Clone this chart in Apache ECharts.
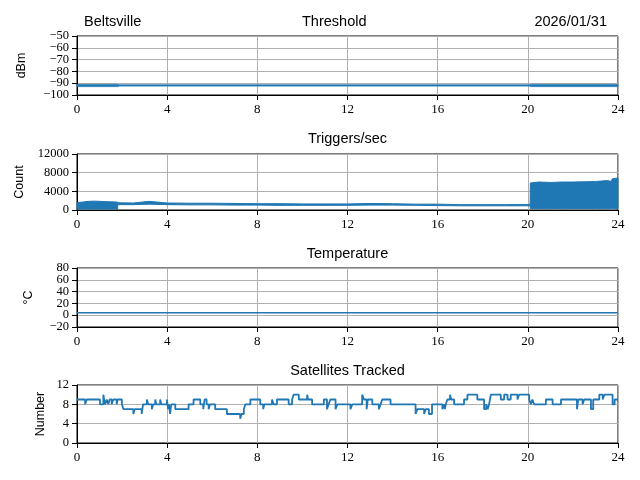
<!DOCTYPE html>
<html>
<head>
<meta charset="utf-8">
<script src="https://cdn.jsdelivr.net/npm/echarts@6/dist/echarts.min.js"></script>
<style>html,body{margin:0;padding:0;background:#fff}#c{width:640px;height:480px}</style>
</head>
<body>
<div id="c"></div>
<script>
// ---- data ----
const hourTicks = [0, 4, 8, 12, 16, 20, 24];
const thrTicks = [-100, -90, -80, -70, -60, -50];
const trigTicks = [0, 4000, 8000, 12000];
const tempTicks = [-20, 0, 20, 40, 60, 80];
const satTicks = [0, 4, 8, 12];

const thrHours = [0, 1.83, 1.84, 20.1, 20.11, 24];
const thrLow  = [-92.9, -92.9, -92.4, -92.4, -92.9, -92.9];
const thrHigh = [-91.0, -91.0, -91.4, -91.4, -91.0, -91.0];

const trigHours = [0, 0.25, 0.5, 0.75, 1.0, 1.25, 1.5, 1.8,
  1.81, 2.5, 3.2, 4, 5, 6, 7, 8, 9, 10, 11, 12, 13, 14, 15, 16, 17, 18, 19, 20.1,
  20.11, 20.5, 21, 21.5, 22, 22.5, 23, 23.5, 23.7, 23.75, 24];
const trigLow = [200, 200, 200, 200, 200, 200, 200, 200,
  1150, 1150, 1250, 1150, 1100, 1100, 1050, 1050, 1000, 1000, 1000, 1000, 1050, 1050, 1000, 950, 900, 900, 900, 900,
  300, 300, 300, 300, 300, 300, 300, 300, 300, 300, 300];
const trigHigh = [1600, 1700, 1850, 1900, 1850, 1800, 1750, 1700,
  1550, 1500, 1850, 1500, 1450, 1450, 1400, 1350, 1350, 1300, 1300, 1300, 1400, 1350, 1250, 1250, 1150, 1150, 1150, 1200,
  5800, 6000, 5900, 6000, 6000, 6050, 6100, 6300, 6150, 6700, 6850];

const tempHours = [0, 6, 12, 18, 24];
const tempVals = [4, 4, 4, 4, 4];

const satSteps = [
  [0.00,9],[0.36,8],[0.43,9],[1.02,8],[1.17,10],[1.24,8],[1.32,9],[1.39,8],[1.45,9],[1.54,8],
  [1.61,9],[1.76,8],[1.80,9],[1.99,8],[2.06,7],[2.50,6],[2.56,7],[2.87,6],[2.93,8],[3.10,9],
  [3.16,8],[3.32,7],[3.38,8],[3.47,9],[3.52,8],[3.69,9],[3.74,8],[3.99,9],[4.04,7],[4.08,8],
  [4.13,6],[4.18,8],[4.36,7],[4.95,8],[5.17,9],[5.47,8],[5.60,7],[5.66,9],[5.75,8],[5.84,7],
  [5.90,8],[6.13,7],[6.65,6],[7.24,5],[7.30,6],[7.40,7],[7.47,8],[7.69,9],[8.13,8],[8.26,7],
  [8.31,8],[8.65,9],[8.73,8],[8.87,9],[9.39,8],[9.54,9],[9.61,10],[9.84,9],[10.21,10],[10.25,9],
  [10.43,8],[10.95,9],[11.09,7],[11.16,8],[11.24,9],[11.47,7],[11.55,8],[12.13,7],[12.21,8],[12.65,10],
  [12.73,9],[12.85,7],[12.90,9],[13.10,8],[13.39,7],[13.47,8],[13.54,9],[13.91,8],[15.02,6],[15.10,7],
  [15.40,6],[15.47,7],[15.61,6],[15.75,8],[16.21,7],[16.28,8],[16.32,7],[16.36,8],[16.43,9],[16.55,10],
  [16.60,9],[16.73,8],[17.17,9],[17.32,10],[17.76,9],[18.06,7],[18.15,8],[18.22,7],[18.28,8],[18.36,10],
  [18.80,9],[18.95,10],[19.10,9],[19.24,10],[19.54,9],[19.61,10],[20.06,9],[20.13,8],[20.20,9],[20.28,8],
  [20.80,9],[21.10,8],[21.47,9],[22.18,7],[22.24,9],[22.43,8],[22.50,9],[22.80,7],[22.90,9],[23.17,10],
  [23.32,9],[23.40,10],[23.76,8],[23.85,9],[24.00,9]
];

const titles = { left: 'Beltsville', center: 'Threshold', right: '2026/01/31' };
const panelTitles = ['Triggers/sec', 'Temperature', 'Satellites Tracked'];
const yNames = ['dBm', 'Count', '\u00B0C', 'Number'];

// ---- chart ----
const BLUE = '#1f77b4';
const SERIF = '"Liberation Serif", "DejaVu Serif", serif';
const SANS = '"Liberation Sans", Arial, sans-serif';
const grids = [
  { left: 77, right: 22, top: 36, height: 59 },
  { left: 77, right: 22, top: 154, height: 56 },
  { left: 77, right: 22, top: 268, height: 59 },
  { left: 77, right: 22, top: 385, height: 58 }
].map(g => Object.assign(g, { show: true, borderColor: '#000', borderWidth: 1, backgroundColor: 'transparent' }));

const fmtVal = v => (v < 0 ? '\u2212' + Math.abs(v) : String(v));
const tickList = [thrTicks, trigTicks, tempTicks, satTicks];

const axisCommon = {
  axisLine: { show: true, onZero: false, lineStyle: { color: '#000', width: 1 } },
  axisTick: { show: true, inside: false, length: 5, lineStyle: { color: '#000', width: 1 } },
  splitLine: { show: true, lineStyle: { color: '#b0b0b0', width: 1 } }
};
const xAxes = grids.map((g, i) => Object.assign({
  type: 'value', gridIndex: i,
  min: hourTicks[0], max: hourTicks[hourTicks.length - 1], interval: hourTicks[1] - hourTicks[0],
  axisLabel: { color: '#000', fontFamily: SERIF, fontSize: 13, margin: 8, showMinLabel: true, showMaxLabel: true }
}, axisCommon));

// two overlapping y axes per panel: one labels even ticks, the other odd ticks
// (keeps the tightly packed tick labels from being dropped as overlaps)
const makeY = (t, i, parity, main) => Object.assign({
  type: 'value', gridIndex: i, position: 'left', offset: 0,
  min: t[0], max: t[t.length - 1], interval: t[1] - t[0],
  axisLabel: {
    color: '#000', fontFamily: SERIF, fontSize: 12.5, margin: 8, showMinLabel: true, showMaxLabel: true,
    formatter: v => {
      const k = t.indexOf(v);
      return (k >= 0 && k % 2 === parity) ? fmtVal(v) : '';
    }
  }
}, main ? axisCommon : {
  axisLine: { show: false }, axisTick: { show: false }, splitLine: { show: false }
});
const yAxes = tickList.map((t, i) => makeY(t, i, 0, true))
  .concat(tickList.map((t, i) => makeY(t, i, 1, false)));

const pairs = (xs, ys) => xs.map((x, i) => [x, ys[i]]);
const bandSeries = (xs, lo, hi, idx, w) => [
  { type: 'custom', xAxisIndex: idx, yAxisIndex: idx, silent: true, animation: false,
    data: xs.map((x, i) => [x, lo[i], hi[i]]),
    encode: { x: 0, y: [1, 2] },
    renderItem: function (params, api) {
      if (params.dataIndexInside !== 0) return null;
      const n = params.dataInsideLength;
      const top = [], bot = [];
      for (let j = 0; j < n; j++) {
        const x = api.value(0, j);
        bot.push(api.coord([x, api.value(1, j)]));
        top.push(api.coord([x, api.value(2, j)]));
      }
      return { type: 'polygon', shape: { points: bot.concat(top.reverse()) },
               style: { fill: BLUE, stroke: BLUE, lineWidth: w } };
    }
  }
];

const series = [].concat(
  bandSeries(thrHours, thrLow, thrHigh, 0, 0.8),
  bandSeries(trigHours, trigLow, trigHigh, 1, 1),
  [{ type: 'line', xAxisIndex: 2, yAxisIndex: 2, data: pairs(tempHours, tempVals), showSymbol: false,
     lineStyle: { color: BLUE, width: 1.5 }, animation: false },
   { type: 'line', xAxisIndex: 3, yAxisIndex: 3, data: satSteps, step: 'end', showSymbol: false,
     lineStyle: { color: BLUE, width: 1.8 }, animation: false }]
);

const txt = (x, y, text, align, size, rot) => ({
  type: 'text', x: x, y: y, rotation: rot || 0,
  style: { text: text, fill: '#000', font: size + 'px ' + SANS, textAlign: align, textVerticalAlign: 'middle' }
});
const graphic = [
  txt(84, 22, titles.left, 'left', 14.5),
  txt(302, 22, titles.center, 'left', 14.5),
  txt(607, 22, titles.right, 'right', 14.5),
  txt(347.5, 139, panelTitles[0], 'center', 14.5),
  txt(347.5, 254, panelTitles[1], 'center', 14.5),
  txt(347.5, 371, panelTitles[2], 'center', 14.5),
  txt(22, 65.5, yNames[0], 'center', 12.5, Math.PI / 2),
  txt(20, 182, yNames[1], 'center', 12.5, Math.PI / 2),
  txt(29, 297.5, yNames[2], 'center', 12.5, Math.PI / 2),
  txt(41, 414, yNames[3], 'center', 12.5, Math.PI / 2)
];

const chart = echarts.init(document.getElementById('c'), null, { renderer: 'canvas' });
chart.setOption({
  backgroundColor: '#fff', animation: false,
  grid: grids, xAxis: xAxes, yAxis: yAxes, series: series, graphic: graphic
});
</script>
</body>
</html>
